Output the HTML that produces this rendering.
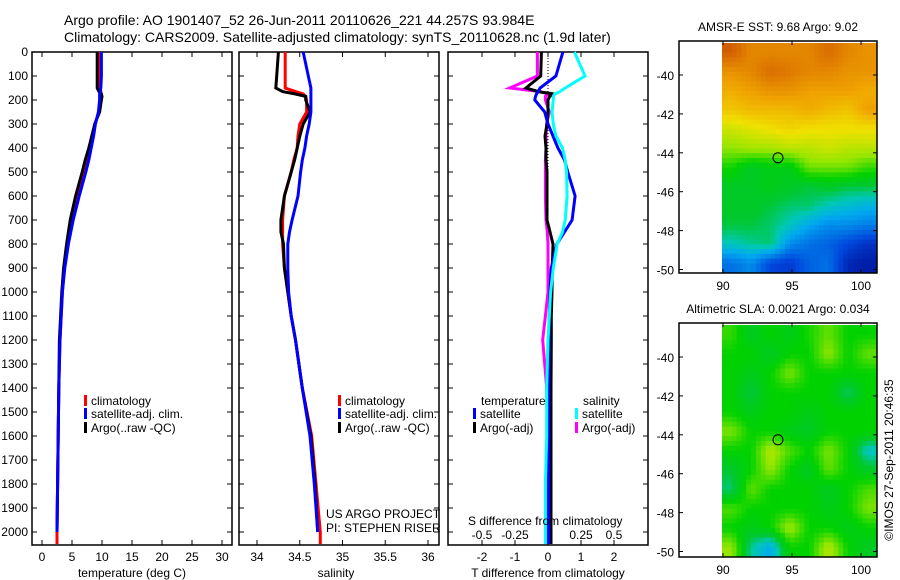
<!DOCTYPE html>
<html><head><meta charset="utf-8"><style>
body{margin:0;background:#fff;}
svg{display:block;font-family:"Liberation Sans",sans-serif;}
</style></head><body>
<svg id="c" width="900" height="580" viewBox="0 0 900 580" xmlns="http://www.w3.org/2000/svg">
<text x="64" y="25" font-size="14">Argo profile: AO 1901407_52 26-Jun-2011 20110626_221 44.257S 93.984E</text>
<text x="64" y="42" font-size="14">Climatology: CARS2009. Satellite-adjusted climatology: synTS_20110628.nc (1.9d later)</text>
<g id="g"></g>
</svg>
<script>
const depths=[0,100,150,165,175,185,200,250,300,350,400,450,500,600,700,750,800,900,1000,1100,1200,1400,1600,1800,2000,2050];
const tClim=[9.6,9.6,9.7,9.8,9.9,9.9,9.7,9.5,8.8,8.4,8.0,7.5,6.9,5.8,4.9,4.6,4.3,3.7,3.4,3.2,3.0,2.8,2.7,2.6,2.5,2.5];
const tSat=[9.9,9.9,9.8,9.7,9.6,9.6,9.6,9.4,8.9,8.6,8.2,7.8,7.3,6.2,5.2,4.8,4.4,3.8,3.4,3.2,3.0,2.8,2.7,2.6,2.5,2.5];
const tArgo=[9.2,9.2,9.2,9.5,9.9,10.0,9.9,9.6,8.8,8.3,7.8,7.2,6.7,5.6,4.7,4.4,4.1,3.6,3.3,3.1,2.9,2.8,2.7,2.6,2.5,2.5];
const sClim=[34.33,34.33,34.33,34.45,34.54,34.57,34.58,34.58,34.50,34.48,34.47,34.43,34.40,34.32,34.30,34.30,34.30,34.32,34.36,34.40,34.45,34.53,34.64,34.69,34.74,34.74];
const sSat=[34.54,34.60,34.63,34.63,34.63,34.63,34.63,34.63,34.61,34.58,34.56,34.53,34.51,34.48,34.41,34.38,34.36,34.36,34.37,34.40,34.45,34.53,34.62,34.67,34.71,34.71];
const sArgo=[34.25,34.23,34.22,34.30,34.45,34.57,34.57,34.62,34.54,34.50,34.47,34.44,34.40,34.32,34.28,34.28,34.31,34.32,34.36,34.40,34.45,34.53,34.63,34.68,34.71,34.71];
const dTSat=[0.45,0.24,-0.24,-0.3,-0.35,-0.38,-0.4,-0.1,0.0,0.15,0.3,0.5,0.6,0.82,0.73,0.5,0.27,0.1,0.06,0.04,0.03,0.02,0.02,0.02,0.02,0.02];
const dTArgo=[-0.2,-0.22,-0.67,-0.3,0.2,0.05,0.0,0.0,-0.03,-0.09,-0.06,-0.06,-0.03,-0.03,-0.03,0.06,0.15,0.13,0.12,0.1,0.1,0.09,0.09,0.09,0.09,0.09];
const dSSat=[0.20,0.28,0.13,0.09,0.05,0.04,0.04,0.03,0.04,0.06,0.11,0.13,0.14,0.145,0.13,0.11,0.07,0.04,0.02,0.01,0.0,-0.01,-0.01,-0.02,-0.02,-0.02];
const dSArgo=[-0.08,-0.08,-0.29,-0.06,0.0,-0.02,-0.02,0.01,-0.01,-0.015,-0.015,-0.02,-0.02,-0.02,-0.015,-0.005,0.0,0.0,0.0,-0.02,-0.04,-0.01,-0.005,-0.005,-0.005,-0.005];
const depthTicks=[0,100,200,300,400,500,600,700,800,900,1000,1100,1200,1300,1400,1500,1600,1700,1800,1900,2000];
const tTicks=[0,5,10,15,20,25,30];
const sTicks=[34,34.5,35,35.5,36];
const dtTicks=[-2,-1,0,1,2];
const dsTicks=[-0.5,-0.25,0,0.25,0.5];
const sstGrid=[
[12.9,12.6,12.6,12.6,12.6,12.8,12.6,12.5],
[12.5,12.6,12.8,12.7,12.6,12.6,12.5,12.5],
[12.3,12.4,12.5,12.5,12.4,12.4,12.4,12.3],
[12.1,12.2,12.2,12.2,12.3,12.2,12.1,12.4],
[11.7,11.8,11.9,12.0,11.9,11.9,11.9,11.9],
[11.4,11.5,11.5,11.6,11.6,11.7,11.6,11.6],
[11.0,10.7,10.8,10.8,11.3,11.3,11.3,11.1],
[10.7,10.7,10.8,10.7,10.6,10.7,10.6,10.6],
[10.7,10.7,10.6,10.5,10.5,10.3,10.2,10.1],
[10.6,10.6,10.5,10.3,10.0,9.8,9.8,9.7],
[10.3,10.4,10.5,9.8,9.6,9.5,9.3,9.1],
[9.6,9.8,9.3,9.2,9.5,9.6,9.0,8.9]];
const slaGrid=[
[0.02,-0.03,0.0,-0.02,0.01,0.04,0.0,0.0],
[0.0,0.0,-0.03,0.0,0.0,0.06,0.0,0.04],
[0.0,-0.02,0.0,0.05,0.0,0.0,0.0,0.0],
[0.0,-0.05,0.0,0.0,0.0,0.0,-0.06,0.0],
[0.0,-0.02,0.0,0.0,-0.02,0.0,0.0,0.0],
[0.05,0.0,0.0,-0.02,-0.03,0.0,0.0,0.0],
[0.0,0.0,0.08,0.03,0.0,0.05,0.0,-0.09],
[-0.04,0.0,0.06,0.0,-0.03,0.04,0.0,-0.03],
[-0.06,0.04,0.0,0.0,0.0,-0.03,0.0,0.03],
[0.03,0.0,0.0,0.0,0.0,-0.02,0.0,0.05],
[0.0,-0.02,0.0,0.07,0.0,0.0,-0.02,0.0],
[0.06,-0.07,-0.12,0.0,0.0,0.08,0.0,-0.03]];

const NS="http://www.w3.org/2000/svg";
const g=document.getElementById('g');
function el(tag,at,txt){const e=document.createElementNS(NS,tag);for(const k in at)e.setAttribute(k,at[k]);if(txt!==undefined)e.textContent=txt;g.appendChild(e);return e;}
const yD=d=>52+d*0.24;
const P1={x0:32,x1:232,f:v=>42+v*6};
const P2={x0:239,x1:439,f:v=>257+(v-34)*85.5};
const P3={x0:448,x1:648,f:v=>548+v*33};
const sD=v=>548+v*132;
const BOT=545;
function frame(P,name){
  const r=el('rect',{x:P.x0,y:52,width:P.x1-P.x0,height:BOT-52,fill:'none',stroke:'#000','stroke-width':1.5});
  
  depthTicks.forEach(d=>{const y=yD(d);
    const a=el('line',{x1:P.x0,x2:P.x0+5,y1:y,y2:y,stroke:'#000'});
    const b=el('line',{x1:P.x1-5,x2:P.x1,y1:y,y2:y,stroke:'#000'});});
}
function xticks(P,ticks,lab){ticks.forEach(v=>{const x=P.f(v);
  const a=el('line',{x1:x,x2:x,y1:BOT,y2:BOT-5,stroke:'#000'});
  const b=el('line',{x1:x,x2:x,y1:52,y2:57,stroke:'#000'});
  if(lab){const t=el('text',{x:x,y:561,'font-size':12,'text-anchor':'middle'},String(v));}});}
function line(vals,fx,color,name,w,maxD){
  let pts=[];depths.forEach((d,i)=>{if(maxD!==undefined&&d>maxD)return;pts.push(fx(vals[i]).toFixed(1)+','+yD(d).toFixed(1));});
  const p=el('polyline',{points:pts.join(' '),fill:'none',stroke:color,'stroke-width':w||3,'stroke-linejoin':'miter'});
  }
frame(P1,'temperature-panel');frame(P2,'salinity-panel');frame(P3,'difference-panel');
depthTicks.forEach(d=>{const t=el('text',{x:28,y:yD(d)+4,'font-size':12,'text-anchor':'end'},String(d));});
xticks(P1,tTicks,true);xticks(P2,sTicks,true);xticks(P3,dtTicks,true);
dsTicks.forEach(v=>{const t=el('text',{x:sD(v),y:539,'font-size':12,'text-anchor':'middle'},String(v));});
const z=el('line',{x1:548,x2:548,y1:52,y2:yD(1000),stroke:'#000','stroke-dasharray':'1,2'});
line(tClim,P1.f,'#f00','temp-climatology-line');line(tArgo,P1.f,'#000','temp-argo-line',3,2000);line(tSat,P1.f,'#00f','temp-satellite-line',3,2000);
line(sClim,P2.f,'#f00','sal-climatology-line');line(sArgo,P2.f,'#000','sal-argo-line',3,2000);line(sSat,P2.f,'#00f','sal-satellite-line',3,2000);
line(dSArgo,sD,'#f0f','s-argo-diff-line');line(dTArgo,P3.f,'#000','t-argo-diff-line');line(dTSat,P3.f,'#00f','t-satellite-diff-line');line(dSSat,sD,'#0ff','s-satellite-diff-line');
function leg(x,y,color,txt,name){const r=el('rect',{x:x,y:y-10,width:3,height:11,fill:color});
  const t=el('text',{x:x+7,y:y,'font-size':12},txt);}
[84,338].forEach(x=>{leg(x,405,'#f00','climatology','legend-climatology');leg(x,418,'#00f','satellite-adj. clim.','legend-satellite');leg(x,432,'#000','Argo(..raw -QC)','legend-argo');});
function txt(x,y,s,name,a,fs){const t=el('text',{x:x,y:y,'font-size':fs||12,'text-anchor':a||'start'},s);return t;}
txt(481,405,'temperature','legend-temperature-heading');txt(583,405,'salinity','legend-salinity-heading');
leg(473,418,'#00f','satellite','legend-t-satellite');leg(473,432,'#000','Argo(-adj)','legend-t-argo');
leg(575,418,'#0ff','satellite','legend-s-satellite');leg(575,432,'#f0f','Argo(-adj)','legend-s-argo');
txt(326,518,'US ARGO PROJECT','project-label');txt(326,532,'PI: STEPHEN RISER','pi-label');
txt(468,525,'S difference from climatology','s-diff-axis-title');
txt(132,577,'temperature (deg C)','temperature-axis-title','middle');txt(336,577,'salinity','salinity-axis-title','middle');txt(548,577,'T difference from climatology','t-diff-axis-title','middle');
const stops=[[0,[0,0,128]],[0.15,[0,70,220]],[0.3,[0,170,240]],[0.37,[0,200,180]],[0.43,[0,200,50]],[0.5,[0,210,0]],[0.6,[150,230,0]],[0.7,[240,225,0]],[0.8,[240,165,0]],[0.9,[215,105,0]],[1,[170,25,0]]];
function cmap(t){t=Math.max(0,Math.min(1,t));for(let i=1;i<stops.length;i++){if(t<=stops[i][0]){const [a,ca]=stops[i-1],[b,cb]=stops[i];const u=(t-a)/(b-a);return `rgb(${ca.map((v,k)=>Math.round(v+(cb[k]-v)*u)).join(',')})`;}}return 'rgb(170,25,0)';}
function sample(grid,r,c){const R=grid.length,C=grid[0].length;r=Math.max(0,Math.min(R-1,r));c=Math.max(0,Math.min(C-1,c));const r0=Math.floor(r),c0=Math.floor(c),r1=Math.min(R-1,r0+1),c1=Math.min(C-1,c0+1),fr=r-r0,fc=c-c0;
  return grid[r0][c0]*(1-fr)*(1-fc)+grid[r0][c1]*(1-fr)*fc+grid[r1][c0]*fr*(1-fc)+grid[r1][c1]*fr*fc;}
function map(top,grid,lo,hi,name,title,bot){
  const lonX=v=>723+(v-90)*13.8, latY=v=>(top+34)+(-40-v)*19.45;
  const x0=679,x1=877,y0=top,y1=bot;
  const ix0=722,iy0=top+2,S=4,NC=8*S,NR=12*S,cw=(x1-ix0)/NC,ch=(y1-iy0)/NR;
  for(let r=0;r<NR;r++)for(let c=0;c<NC;c++){const v=sample(grid,(r+0.5)/S-0.5,(c+0.5)/S-0.5);
    const e=el('rect',{x:(ix0+c*cw).toFixed(2),y:(iy0+r*ch).toFixed(2),width:(cw+0.4).toFixed(2),height:(ch+0.4).toFixed(2),fill:cmap((v-lo)/(hi-lo))});
    }
  const f=el('rect',{x:x0,y:y0,width:x1-x0,height:y1-y0,fill:'none',stroke:'#000','stroke-width':1.5});
  [-40,-42,-44,-46,-48,-50].forEach(v=>{const y=latY(v);const a=el('line',{x1:x0,x2:x0+4,y1:y,y2:y,stroke:'#000'});
    const b=el('line',{x1:x1-4,x2:x1,y1:y,y2:y,stroke:'#000'});
    txt(674,y+5,String(v),'lat-tick-label','end');});
  [90,95,100].forEach(v=>{const x=lonX(v);const a=el('line',{x1:x,x2:x,y1:y1,y2:y1-4,stroke:'#000'});
    const b=el('line',{x1:x,x2:x,y1:y0,y2:y0+4,stroke:'#000'});
    txt(x,y1+17,String(v),'lon-tick-label','middle');});
  const c=el('circle',{cx:lonX(93.984),cy:latY(-44.257),r:5,fill:'none',stroke:'#000','stroke-width':1});
  txt(778,top-10,title,name+'-title','middle');
}
map(41,sstGrid,8.6,13.3,'sst-map','AMSR-E SST: 9.68 Argo: 9.02',273);
map(323,slaGrid,-0.3,0.3,'sla-map','Altimetric SLA: 0.0021 Argo: 0.034',557);
const r=txt(893,460,'©IMOS 27-Sep-2011 20:46:35','timestamp-label','middle');r.setAttribute('transform','rotate(-90 893 460)');
</script>
</body></html>
